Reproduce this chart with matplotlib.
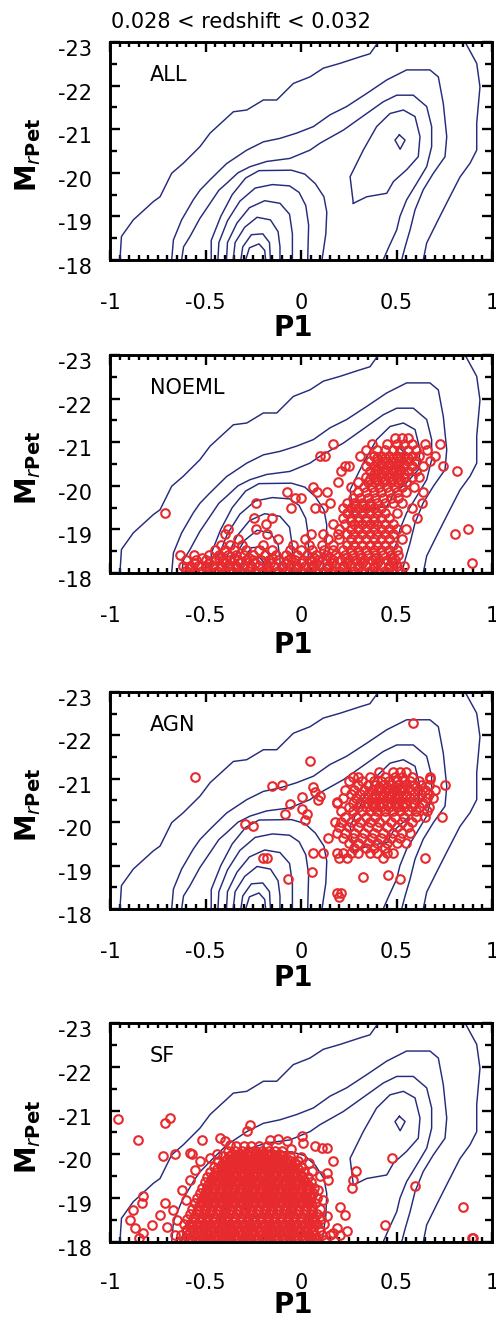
import matplotlib.pyplot as plt
from matplotlib.ticker import MultipleLocator
from matplotlib.transforms import ScaledTranslation

# ---- data (P1, M_rPet) ----
title = '0.028 < redshift < 0.032'
panel_names = ['ALL', 'NOEML', 'AGN', 'SF']
x_ticks = [-1, -0.5, 0, 0.5, 1]
x_tick_labels = ['-1', '-0.5', '0', '0.5', '1']
y_ticks = [-23, -22, -21, -20, -19, -18]
y_tick_labels = ['-23', '-22', '-21', '-20', '-19', '-18']

# contour lines of the whole sample (same in every panel)
cont_1a = [(-0.948, -18.0), (-0.94, -18.54), (-0.878, -18.92), (-0.773, -19.34), (-0.738, -19.45),
           (-0.677, -19.99), (-0.616, -20.22), (-0.529, -20.60), (-0.476, -20.91), (-0.354, -21.40),
           (-0.284, -21.44), (-0.197, -21.67), (-0.127, -21.67), (-0.04, -22.05), (0.047, -22.20),
           (0.117, -22.40), (0.204, -22.51), (0.309, -22.66), (0.361, -22.73), (0.405, -23.0)]
cont_1b = [(0.859, -23.0), (0.92, -22.51), (0.937, -21.97), (0.92, -21.14), (0.92, -20.52),
           (0.885, -20.22), (0.832, -19.90), (0.763, -19.31), (0.71, -18.85), (0.658, -18.39),
           (0.64, -18.0)]
cont_2 = [(-0.677, -18.0), (-0.668, -18.46), (-0.625, -18.92), (-0.564, -19.38), (-0.529, -19.6),
          (-0.476, -19.84), (-0.39, -20.21), (-0.284, -20.52), (-0.197, -20.71), (-0.11, -20.79),
          (-0.023, -20.91), (0.065, -21.06), (0.152, -21.33), (0.239, -21.52), (0.344, -21.82),
          (0.449, -22.13), (0.553, -22.36), (0.675, -22.36), (0.719, -22.2), (0.745, -21.59),
          (0.763, -20.83), (0.754, -20.37), (0.693, -19.99), (0.64, -19.61), (0.597, -19.15),
          (0.571, -18.69), (0.545, -18.3), (0.527, -18.0)]
cont_3 = [(-0.625, -18.0), (-0.615, -18.3), (-0.581, -18.54), (-0.53, -18.95), (-0.476, -19.30),
          (-0.43, -19.6), (-0.389, -19.76), (-0.33, -20.0), (-0.267, -20.14), (-0.18, -20.26),
          (-0.058, -20.33), (0.047, -20.52), (0.10, -20.68), (0.222, -20.98), (0.344, -21.36),
          (0.431, -21.63), (0.501, -21.78), (0.588, -21.78), (0.658, -21.52), (0.684, -21.06),
          (0.684, -20.6), (0.658, -20.14), (0.606, -19.76), (0.553, -19.38), (0.518, -19.0),
          (0.501, -18.69), (0.46, -18.3), (0.43, -18.0)]
cont_4r = [(0.274, -19.30), (0.257, -19.91), (0.326, -20.52), (0.396, -21.06), (0.466, -21.36),
           (0.536, -21.44), (0.597, -21.29), (0.623, -20.83), (0.614, -20.37), (0.553, -20.07),
           (0.484, -19.80), (0.449, -19.53), (0.344, -19.45), (0.274, -19.30)]
cont_5r = [(0.515, -20.87), (0.545, -20.75), (0.519, -20.54), (0.492, -20.75), (0.515, -20.87)]
cont_4l = [(-0.47, -18.0), (-0.47, -18.45), (-0.42, -19.0), (-0.36, -19.5), (-0.29, -19.88),
           (-0.22, -20.05), (-0.05, -20.06), (0.02, -19.97), (0.075, -19.75), (0.12, -19.45),
           (0.135, -19.1), (0.13, -18.6), (0.11, -18.0)]
cont_5l = [(-0.435, -18.0), (-0.43, -18.4), (-0.385, -18.9), (-0.32, -19.35), (-0.24, -19.65),
           (-0.15, -19.73), (-0.06, -19.7), (-0.01, -19.55), (0.025, -19.25), (0.04, -18.8),
           (0.035, -18.0)]
cont_6 = [(-0.39, -18.0), (-0.385, -18.4), (-0.335, -18.85), (-0.27, -19.2), (-0.19, -19.36),
          (-0.11, -19.3), (-0.06, -19.05), (-0.045, -18.6), (-0.045, -18.0)]
cont_7 = [(-0.355, -18.0), (-0.345, -18.4), (-0.295, -18.75), (-0.23, -18.98), (-0.16, -18.92),
          (-0.12, -18.65), (-0.11, -18.3), (-0.11, -18.0)]
cont_8 = [(-0.315, -18.0), (-0.305, -18.3), (-0.26, -18.58), (-0.2, -18.6), (-0.165, -18.4),
          (-0.16, -18.0)]
cont_9 = [(-0.29, -18.0), (-0.27, -18.28), (-0.22, -18.37), (-0.19, -18.22), (-0.185, -18.0)]

# NOEML galaxies: rows of (M, [P1 ...])
noeml_rows = [
    (-18.05, [-0.60, -0.56, -0.52, -0.48, -0.44, -0.40, -0.36, -0.32, -0.28, -0.24, -0.20, -0.16, -0.12,
              -0.08, -0.04, 0.0, 0.04, 0.08, 0.12, 0.16, 0.20, 0.24, 0.28, 0.32, 0.36, 0.40, 0.44, 0.48, 0.52]),
    (-18.11, [-0.58, -0.50, -0.42, -0.34, -0.26, -0.18, -0.10, -0.02, 0.06, 0.14, 0.22, 0.30, 0.38, 0.46]),
    (-18.17, [-0.62, -0.58, -0.54, -0.50, -0.46, -0.42, -0.38, -0.34, -0.30, -0.26, -0.22, -0.18, -0.14,
              -0.10, -0.06, -0.02, 0.02, 0.06, 0.10, 0.14, 0.18, 0.22, 0.26, 0.30, 0.34, 0.38, 0.42, 0.46,
              0.50, 0.54]),
    (-18.23, [-0.56, -0.48, -0.40, -0.32, -0.24, -0.16, -0.08, 0.0, 0.08, 0.16, 0.24, 0.32, 0.40, 0.48]),
    (-18.29, [-0.60, -0.55, -0.50, -0.45, -0.41, -0.37, -0.33, -0.29, -0.25, -0.21, -0.17, -0.12, -0.07,
              -0.03, 0.01, 0.05, 0.09, 0.13, 0.17, 0.21, 0.25, 0.29, 0.33, 0.37, 0.41, 0.45, 0.49]),
    (-18.35, [-0.52, -0.43, -0.35, -0.27, -0.15, -0.05, 0.07, 0.15, 0.23, 0.31, 0.39, 0.47]),
    (-18.41, [-0.635, -0.56, -0.48, -0.43, -0.38, -0.34, -0.30, -0.25, -0.19, -0.13, -0.08, -0.02, 0.03,
              0.08, 0.13, 0.18, 0.23, 0.27, 0.31, 0.35, 0.39, 0.43, 0.47, 0.51]),
    (-18.53, [-0.45, -0.40, -0.35, -0.29, -0.22, -0.15, -0.06, 0.0, 0.06, 0.12, 0.17, 0.22, 0.26, 0.30,
              0.34, 0.38, 0.42, 0.46, 0.50]),
    (-18.65, [-0.42, -0.37, -0.31, -0.20, -0.04, 0.04, 0.11, 0.17, 0.24, 0.28, 0.32, 0.36, 0.40, 0.44,
              0.48]),
    (-18.77, [-0.33, -0.12, 0.02, 0.14, 0.20, 0.26, 0.30, 0.34, 0.38, 0.42, 0.46, 0.53]),
    (-18.89, [-0.40, -0.18, 0.05, 0.115, 0.195, 0.24, 0.28, 0.32, 0.36, 0.40, 0.44, 0.48, 0.806]),
    (-19.01, [-0.38, -0.235, 0.20, 0.26, 0.30, 0.34, 0.38, 0.42, 0.46, 0.50, 0.55, 0.876]),
    (-19.13, [-0.185, 0.17, 0.23, 0.28, 0.32, 0.36, 0.40, 0.44, 0.48]),
    (-19.19, [0.26, 0.30, 0.34, 0.38]),
    (-19.25, [-0.245, -0.15, 0.22, 0.26, 0.30, 0.34, 0.38, 0.42, 0.46, 0.606]),
    (-19.37, [-0.71, 0.24, 0.28, 0.32, 0.36, 0.40, 0.44, 0.50]),
    (-19.49, [-0.05, 0.075, 0.115, 0.22, 0.26, 0.30, 0.34, 0.38, 0.42, 0.58]),
    (-19.55, [0.28, 0.32, 0.36]),
    (-19.61, [-0.235, 0.15, 0.24, 0.28, 0.32, 0.36, 0.40, 0.44, 0.48, 0.53, 0.632]),
    (-19.73, [-0.03, 0.0, 0.27, 0.31, 0.35, 0.39, 0.43, 0.47, 0.51]),
    (-19.85, [-0.075, 0.085, 0.135, 0.30, 0.34, 0.38, 0.42, 0.46, 0.50, 0.55, 0.64]),
    (-19.97, [0.065, 0.26, 0.33, 0.37, 0.41, 0.45, 0.49, 0.53, 0.59]),
    (-20.09, [0.195, 0.30, 0.35, 0.39, 0.43, 0.47, 0.51, 0.55]),
    (-20.15, [0.36, 0.40, 0.44, 0.48, 0.52]),
    (-20.21, [0.34, 0.38, 0.42, 0.46, 0.50, 0.54, 0.58, 0.62]),
    (-20.27, [0.38, 0.42, 0.46, 0.50, 0.54]),
    (-20.33, [0.21, 0.36, 0.40, 0.44, 0.48, 0.52, 0.56, 0.60, 0.815]),
    (-20.39, [0.40, 0.44, 0.48, 0.52]),
    (-20.45, [0.23, 0.25, 0.34, 0.38, 0.42, 0.46, 0.50, 0.54, 0.58, 0.64, 0.745]),
    (-20.51, [0.42, 0.46, 0.50, 0.54]),
    (-20.57, [0.36, 0.40, 0.44, 0.48, 0.52, 0.56, 0.60, 0.675]),
    (-20.63, [0.40, 0.44, 0.48, 0.52, 0.56]),
    (-20.69, [0.10, 0.125, 0.31, 0.38, 0.42, 0.46, 0.50, 0.54, 0.58, 0.62, 0.70]),
    (-20.81, [0.34, 0.40, 0.44, 0.48, 0.52, 0.56, 0.60, 0.66]),
    (-20.95, [0.17, 0.37, 0.45, 0.50, 0.54, 0.58, 0.65, 0.728]),
    (-21.10, [0.49, 0.53, 0.56]),
    (-18.22, [0.893]),
]

# AGN galaxies
agn_rows = [
    (-21.15, [0.41, 0.48, 0.52, 0.55]),
    (-21.05, [0.27, 0.30, 0.36, 0.44, 0.49, 0.53, 0.58, 0.675]),
    (-20.95, [0.25, 0.32, 0.38, 0.42, 0.46, 0.50, 0.54, 0.57, 0.62]),
    (-20.85, [0.30, 0.35, 0.39, 0.43, 0.47, 0.51, 0.55, 0.59, 0.63, 0.67, 0.754]),
    (-20.80, [0.41, 0.45, 0.49, 0.53]),
    (-20.75, [0.23, 0.28, 0.33, 0.37, 0.41, 0.45, 0.49, 0.53, 0.57, 0.61, 0.65, 0.70]),
    (-20.70, [0.44, 0.48]),
    (-20.65, [0.26, 0.31, 0.35, 0.39, 0.43, 0.47, 0.51, 0.55, 0.59, 0.63, 0.67]),
    (-20.60, [0.39, 0.43, 0.47, 0.51, 0.55]),
    (-20.55, [0.22, 0.29, 0.33, 0.37, 0.41, 0.45, 0.49, 0.53, 0.57, 0.61, 0.66, 0.69]),
    (-20.45, [0.19, 0.27, 0.31, 0.35, 0.39, 0.43, 0.47, 0.51, 0.55, 0.59, 0.64]),
    (-20.40, [0.37, 0.41, 0.45, 0.49, 0.53]),
    (-20.35, [0.25, 0.30, 0.34, 0.38, 0.42, 0.46, 0.50, 0.54, 0.58, 0.62, 0.67]),
    (-20.25, [0.21, 0.27, 0.32, 0.36, 0.40, 0.44, 0.48, 0.52, 0.56, 0.60, 0.66]),
    (-20.13, [0.23, 0.29, 0.34, 0.39, 0.44, 0.49, 0.54, 0.60, 0.65, 0.736]),
    (-20.00, [0.18, 0.21, 0.26, 0.31, 0.36, 0.41, 0.47, 0.53, 0.58]),
    (-19.88, [0.20, 0.25, 0.30, 0.35, 0.40, 0.45, 0.50, 0.56]),
    (-19.76, [0.19, 0.23, 0.28, 0.33, 0.38, 0.43, 0.48, 0.53, 0.57]),
    (-19.64, [0.143, 0.22, 0.27, 0.32, 0.37, 0.42, 0.47, 0.52]),
    (-19.52, [0.25, 0.30, 0.35, 0.40, 0.45, 0.50, 0.55]),
    (-19.40, [0.28, 0.34, 0.38, 0.44]),
    (-19.30, [0.065, 0.117, 0.19, 0.22, 0.26, 0.30, 0.36, 0.40, 0.45, 0.48]),
    (-19.18, [-0.197, -0.18, 0.20, 0.24, 0.43, 0.649]),
]
agn_outliers = [(-0.555, -21.04), (0.047, -21.42), (0.588, -22.29), (-0.154, -20.83), (-0.101, -20.85),
                (0.065, -20.81), (0.073, -20.70), (0.003, -20.58), (-0.058, -20.43), (-0.084, -20.18),
                (0.003, -20.31), (0.03, -20.20), (0.02, -20.06), (0.09, -20.51), (0.10, -20.60),
                (-0.293, -19.97), (-0.25, -19.92), (-0.066, -18.70), (0.056, -18.86), (0.187, -20.47),
                (0.187, -18.36), (0.21, -18.38), (0.20, -18.27), (0.326, -18.74), (0.457, -18.78),
                (0.518, -18.70), (0.675, -21.00)]

# SF galaxies: dense core rows plus the sparser fringe
sf_rows = [
    (-18.04, [-0.61, -0.575, -0.54, -0.505, -0.47, -0.435, -0.40, -0.365, -0.33, -0.295, -0.26, -0.225,
              -0.19, -0.155, -0.12, -0.085, -0.05, -0.015, 0.02, 0.055, 0.09, 0.125]),
    (-18.10, [-0.59, -0.555, -0.52, -0.485, -0.45, -0.415, -0.38, -0.345, -0.31, -0.275, -0.24, -0.205,
              -0.17, -0.135, -0.10, -0.065, -0.03, 0.005, 0.04, 0.075]),
    (-18.16, [-0.63, -0.595, -0.56, -0.52, -0.485, -0.45, -0.415, -0.38, -0.345, -0.31, -0.275, -0.24,
              -0.205, -0.17, -0.135, -0.10, -0.065, -0.03, 0.005, 0.04, 0.075, 0.11, 0.15]),
    (-18.22, [-0.58, -0.545, -0.505, -0.47, -0.435, -0.40, -0.36, -0.325, -0.29, -0.255, -0.22, -0.185,
              -0.15, -0.115, -0.08, -0.045, -0.01, 0.025, 0.06]),
    (-18.28, [-0.60, -0.565, -0.53, -0.495, -0.46, -0.425, -0.39, -0.355, -0.32, -0.285, -0.25, -0.215,
              -0.18, -0.145, -0.11, -0.075, -0.04, -0.005, 0.03, 0.065, 0.10]),
    (-18.34, [-0.58, -0.545, -0.51, -0.475, -0.44, -0.405, -0.37, -0.335, -0.30, -0.265, -0.23, -0.195,
              -0.16, -0.125, -0.09, -0.055, -0.02, 0.015, 0.05]),
    (-18.40, [-0.615, -0.58, -0.545, -0.51, -0.475, -0.44, -0.405, -0.37, -0.335, -0.30, -0.265, -0.23,
              -0.195, -0.16, -0.125, -0.09, -0.055, -0.02, 0.015, 0.05, 0.085, 0.12]),
    (-18.46, [-0.565, -0.53, -0.49, -0.455, -0.42, -0.385, -0.35, -0.315, -0.28, -0.245, -0.21, -0.175,
              -0.14, -0.105, -0.07, -0.035, 0.0, 0.035, 0.07]),
    (-18.52, [-0.595, -0.56, -0.525, -0.49, -0.455, -0.42, -0.385, -0.35, -0.315, -0.28, -0.245, -0.21,
              -0.175, -0.14, -0.105, -0.07, -0.035, 0.0, 0.035, 0.07, 0.105]),
    (-18.58, [-0.56, -0.525, -0.49, -0.455, -0.42, -0.385, -0.35, -0.315, -0.28, -0.245, -0.21, -0.175,
              -0.14, -0.105, -0.07, -0.035, 0.0, 0.035, 0.065]),
    (-18.64, [-0.58, -0.545, -0.51, -0.475, -0.44, -0.405, -0.37, -0.335, -0.30, -0.265, -0.23, -0.195,
              -0.16, -0.125, -0.09, -0.055, -0.02, 0.015, 0.05, 0.085]),
    (-18.70, [-0.545, -0.51, -0.475, -0.44, -0.405, -0.37, -0.335, -0.30, -0.265, -0.23, -0.195, -0.16,
              -0.125, -0.09, -0.055, -0.02, 0.015, 0.05]),
    (-18.76, [-0.57, -0.535, -0.50, -0.465, -0.43, -0.395, -0.36, -0.325, -0.29, -0.255, -0.22, -0.185,
              -0.15, -0.115, -0.08, -0.045, -0.01, 0.025, 0.06, 0.10]),
    (-18.82, [-0.535, -0.50, -0.465, -0.43, -0.395, -0.36, -0.325, -0.29, -0.255, -0.22, -0.185, -0.15,
              -0.115, -0.08, -0.045, -0.01, 0.025, 0.055]),
    (-18.88, [-0.555, -0.52, -0.485, -0.45, -0.415, -0.38, -0.345, -0.31, -0.275, -0.24, -0.205, -0.17,
              -0.135, -0.10, -0.065, -0.03, 0.005, 0.04, 0.075]),
    (-18.94, [-0.525, -0.49, -0.455, -0.42, -0.385, -0.35, -0.315, -0.28, -0.245, -0.21, -0.175, -0.14,
              -0.105, -0.07, -0.035, 0.0, 0.035]),
    (-19.00, [-0.545, -0.51, -0.475, -0.44, -0.405, -0.37, -0.335, -0.30, -0.265, -0.23, -0.195, -0.16,
              -0.125, -0.09, -0.055, -0.02, 0.015, 0.05, 0.085]),
    (-19.06, [-0.51, -0.475, -0.44, -0.405, -0.37, -0.335, -0.30, -0.265, -0.23, -0.195, -0.16, -0.125,
              -0.09, -0.055, -0.02, 0.015, 0.045]),
    (-19.12, [-0.53, -0.495, -0.46, -0.425, -0.39, -0.355, -0.32, -0.285, -0.25, -0.215, -0.18, -0.145,
              -0.11, -0.075, -0.04, -0.005, 0.03, 0.065]),
    (-19.18, [-0.50, -0.465, -0.43, -0.395, -0.36, -0.325, -0.29, -0.255, -0.22, -0.185, -0.15, -0.115,
              -0.08, -0.045, -0.01, 0.025]),
    (-19.24, [-0.52, -0.485, -0.45, -0.415, -0.38, -0.345, -0.31, -0.275, -0.24, -0.205, -0.17, -0.135,
              -0.10, -0.065, -0.03, 0.005, 0.04, 0.07]),
    (-19.30, [-0.485, -0.45, -0.415, -0.38, -0.345, -0.31, -0.275, -0.24, -0.205, -0.17, -0.135, -0.10,
              -0.065, -0.03, 0.005, 0.035]),
    (-19.36, [-0.505, -0.47, -0.435, -0.40, -0.365, -0.33, -0.295, -0.26, -0.225, -0.19, -0.155, -0.12,
              -0.085, -0.05, -0.015, 0.02, 0.05]),
    (-19.42, [-0.47, -0.435, -0.40, -0.365, -0.33, -0.295, -0.26, -0.225, -0.19, -0.155, -0.12, -0.085,
              -0.05, -0.015, 0.015]),
    (-19.48, [-0.49, -0.455, -0.42, -0.385, -0.35, -0.315, -0.28, -0.245, -0.21, -0.175, -0.14, -0.105,
              -0.07, -0.035, 0.0, 0.035]),
    (-19.54, [-0.455, -0.42, -0.385, -0.35, -0.315, -0.28, -0.245, -0.21, -0.175, -0.14, -0.105, -0.07,
              -0.035, 0.0]),
    (-19.60, [-0.475, -0.44, -0.405, -0.37, -0.335, -0.30, -0.265, -0.23, -0.195, -0.16, -0.125, -0.09,
              -0.055, -0.02, 0.015]),
    (-19.66, [-0.44, -0.40, -0.365, -0.33, -0.295, -0.26, -0.225, -0.19, -0.155, -0.12, -0.085, -0.05,
              -0.015]),
    (-19.72, [-0.455, -0.42, -0.385, -0.35, -0.315, -0.28, -0.245, -0.21, -0.175, -0.14, -0.105, -0.07,
              -0.035, 0.0]),
    (-19.78, [-0.415, -0.38, -0.345, -0.31, -0.275, -0.24, -0.205, -0.17, -0.135, -0.10, -0.065, -0.03]),
    (-19.84, [-0.435, -0.40, -0.365, -0.33, -0.295, -0.26, -0.225, -0.19, -0.155, -0.12, -0.085, -0.05,
              -0.015]),
    (-19.90, [-0.39, -0.355, -0.32, -0.285, -0.25, -0.215, -0.18, -0.145, -0.11, -0.075]),
    (-19.96, [-0.41, -0.375, -0.34, -0.305, -0.27, -0.235, -0.20, -0.165, -0.13, -0.095, -0.06]),
    (-20.02, [-0.36, -0.325, -0.29, -0.255, -0.22, -0.185, -0.15, -0.115]),
    (-20.08, [-0.38, -0.345, -0.31, -0.275, -0.24, -0.205, -0.17, -0.135, -0.10]),
    (-20.20, [-0.34, -0.30, -0.26, -0.22, -0.18]),
]
sf_outliers = [(-0.956, -20.80), (-0.712, -20.72), (-0.686, -20.84), (-0.852, -20.34), (-0.72, -19.96),
               (-0.66, -20.0), (-0.572, -20.0), (-0.52, -20.34), (-0.424, -20.38), (-0.398, -20.30),
               (-0.267, -20.68), (-0.284, -20.53), (-0.162, -20.34), (-0.119, -20.36), (-0.075, -20.30),
               (0.003, -20.43), (0.012, -20.26), (0.073, -20.19), (0.108, -20.15), (0.134, -20.15),
               (0.169, -19.84), (0.134, -19.57), (0.10, -19.50), (0.143, -19.42), (0.091, -19.19),
               (0.117, -18.96), (0.204, -18.81), (0.23, -18.62), (0.134, -18.60), (0.187, -18.31),
               (0.239, -18.24), (0.204, -18.16), (0.17, -18.20), (0.29, -19.61), (0.274, -19.42),
               (0.265, -19.23), (0.475, -19.92), (0.597, -19.27), (0.85, -18.81), (0.44, -18.39),
               (0.893, -18.10), (0.90, -18.08), (-0.825, -19.04), (-0.834, -18.89), (-0.878, -18.73),
               (-0.895, -18.50), (-0.869, -18.31), (-0.825, -18.20), (-0.85, -18.08), (-0.78, -18.39),
               (-0.738, -18.62), (-0.71, -18.88), (-0.668, -18.73), (-0.70, -18.35), (-0.65, -18.50),
               (-0.66, -18.15), (-0.625, -19.19), (-0.60, -18.96), (-0.581, -19.42), (-0.555, -19.65),
               (-0.529, -19.84), (-0.476, -19.92), (-0.44, -20.02), (-0.581, -20.03), (-0.37, -20.22),
               (-0.05, -20.12), (0.0, -19.95), (0.04, -19.80), (0.06, -19.62)]

# ---- drawing ----
contours = [cont_1a, cont_1b, cont_2, cont_3, cont_4r, cont_5r, cont_4l, cont_5l,
            cont_6, cont_7, cont_8, cont_9]


def rows_to_points(rows):
    return [(p, m) for m, ps in rows for p in ps]


panel_points = [[], rows_to_points(noeml_rows), rows_to_points(agn_rows) + agn_outliers,
                rows_to_points(sf_rows) + sf_outliers]

W, H = 496, 1319
panel_px = [(42, 260), (355, 573), (692, 909), (1023, 1242)]  # box top/bottom in pixels
xlabel_px = [328, 645, 978, 1305]                              # centre of the "P1" labels
xpad = [24, 24, 24, 22]
line_col = '#262c7c'
pt_col = '#e62a2e'

fig = plt.figure(figsize=(W / 100, H / 100), dpi=100)

for i, (name, pts, (top, bot), xl) in enumerate(zip(panel_names, panel_points, panel_px, xlabel_px)):
    ax = fig.add_axes([110 / W, 1 - bot / H, 382 / W, (bot - top) / H])

    for c in contours:
        ax.plot([p[0] for p in c], [p[1] for p in c], color=line_col, lw=1.05)
    if pts:
        ax.plot([p[0] for p in pts], [p[1] for p in pts], 'o', ls='none', mfc='none',
                mec=pt_col, ms=6.2, mew=1.5)

    ax.set_xlim(-1, 1)
    ax.set_ylim(-18, -23)
    ax.set_xticks(x_ticks)
    ax.set_xticklabels(x_tick_labels)
    ax.set_yticks(y_ticks)
    ax.set_yticklabels(y_tick_labels)
    ax.xaxis.set_minor_locator(MultipleLocator(0.05))
    ax.yaxis.set_minor_locator(MultipleLocator(0.5))
    ax.tick_params(which='both', direction='in', top=True, right=True, width=1.7, labelsize=15)
    ax.tick_params(which='major', length=7.5)
    ax.tick_params(axis='x', which='minor', length=3.5)
    ax.tick_params(axis='y', which='minor', length=5)
    ax.tick_params(axis='x', pad=xpad[i])
    ax.tick_params(axis='y', pad=13)
    for s in ax.spines.values():
        s.set_linewidth(2.1)
    # y labels sit a little below their ticks in the original
    shift = ScaledTranslation(0, -0.06, fig.dpi_scale_trans)
    for lab in ax.get_yticklabels():
        lab.set_transform(lab.get_transform() + shift)

    ax.text(0.105, 0.85, name, transform=ax.transAxes, fontsize=15, va='center', ha='left')

    fig.text(293 / W, 1 - xl / H, 'P1', fontsize=20, fontweight='bold',
             ha='center', va='center')
    fig.text(28 / W, 1 - ((top + bot) / 2 + 4) / H, r'$\mathbf{M}_{r\mathbf{Pet}}$', fontsize=20,
             rotation=90, ha='center', va='center')

fig.text(241 / W, 1 - 22 / H, title, fontsize=15, ha='center', va='center')

fig.savefig('out.png', dpi=100)
